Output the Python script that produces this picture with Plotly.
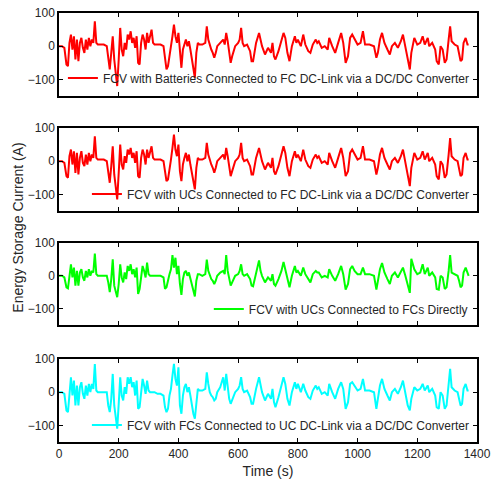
import plotly.graph_objects as go

# Time samples (s)
time_s = [
    0, 10, 18, 25, 30, 35, 40, 45, 50, 55,
    60, 65, 70, 75, 80, 85, 90, 95, 100, 105,
    110, 115, 120, 125, 130, 140, 150, 160, 165, 170,
    175, 180, 185, 190, 195, 200, 205, 210, 215, 220,
    225, 230, 235, 240, 245, 250, 255, 260, 265, 270,
    275, 280, 285, 290, 295, 300, 305, 310, 315, 320,
    330, 340, 350, 355, 360, 365, 370, 375, 380, 385,
    390, 395, 400, 405, 410, 415, 420, 425, 430, 435,
    440, 445, 450, 455, 460, 465, 470, 480, 490, 495,
    500, 505, 510, 515, 520, 525, 530, 540, 550, 555,
    560, 565, 570, 575, 580, 590, 600, 605, 610, 615,
    620, 630, 640, 645, 650, 655, 660, 670, 675, 680,
    690, 700, 710, 715, 720, 725, 735, 745, 752, 758,
    765, 772, 780, 790, 795, 800, 810, 818, 825, 835,
    842, 850, 860, 865, 870, 880, 890, 900, 905, 915,
    925, 935, 945, 952, 960, 968, 975, 982, 990, 1000,
    1010, 1018, 1025, 1040, 1055, 1063, 1068, 1075, 1082, 1090,
    1100, 1108, 1115, 1125, 1135, 1145, 1152, 1160, 1168, 1175,
    1180, 1190, 1200, 1210, 1218, 1225, 1235, 1240, 1250, 1260,
    1265, 1272, 1278, 1285, 1292, 1298, 1305, 1310, 1315, 1325,
    1335, 1340, 1345, 1350, 1355, 1362, 1368, 1372,
]

# Panel 1: batteries connected to FC DC-link via DC/DC converter (A)
batt_current = [
    0, 0, -5, -55, -60, 10, 35, -10, 30, -40,
    20, -45, 10, 25, -5, -20, 20, -10, 25, 0,
    20, 10, 75, 10, 5, 5, 5, 0, -30, -70,
    -20, 30, -40, -75, -120, -40, 55, -10, -30, 10,
    -10, 35, 20, 45, 10, 25, -5, 30, -50, -55,
    10, 35, 20, -10, 40, 10, 30, 50, 10, 5,
    5, 5, 0, -40, -70, -60, -20, 0, 30, 65,
    30, 10, 40, -30, -65, -10, 10, 20, 0, 15,
    -10, -40, -60, -95, -20, 10, 5, 5, 10, 60,
    20, 0, -10, -20, -35, -20, 0, 10, 20, 5,
    40, 15, -20, -50, -30, 0, 10, 20, 55, 10,
    0, 5, -15, -45, -45, -10, 10, 40, 20, 0,
    -25, -5, -20, 10, -30, -40, -15, 20, 40, 25,
    -20, -45, 0, 30, 10, 20, 0, 35, 5, -15,
    -20, 5, 20, 10, 15, -5, 0, -10, 25, 0,
    -20, 10, 40, 10, -50, -30, 25, 35, 20, 5,
    10, 45, 5, 5, 0, -35, -20, 20, 40, 10,
    -10, -25, 0, 10, -5, 15, 35, 0, -40, -70,
    -20, 25, 5, 10, 30, 5, 25, 0, 10, -10,
    -45, -55, 0, -10, -50, -40, 20, 60, 15, 5,
    0, -20, -45, -40, 10, 25, 5, 5,
]

# Panel 2: UCs connected to FC DC-link via DC/DC converter (A)
uc_dcdc_current = [
    0, 0, -5, -45, -50, 15, 35, -10, 30, -35,
    25, -40, 10, 30, -5, -15, 20, -10, 25, 0,
    20, 10, 75, 10, 5, 5, 5, 0, -30, -65,
    -15, 45, -40, -70, -115, -35, 50, -10, -25, 15,
    -5, 35, 20, 40, 10, 25, -5, 30, -45, -50,
    10, 35, 20, -10, 35, 10, 30, 45, 10, 5,
    5, 5, 0, -35, -60, -55, -15, 5, 40, 80,
    35, 15, 50, -30, -60, -10, 10, 25, 0, 20,
    -10, -35, -55, -85, -20, 10, 5, 5, 10, 55,
    20, 0, -10, -20, -35, -20, 0, 10, 20, 5,
    40, 15, -20, -45, -30, 0, 10, 20, 55, 10,
    0, 5, -15, -40, -40, -10, 10, 40, 20, 0,
    -25, -5, -20, 10, -30, -40, -15, 20, 45, 25,
    -20, -45, 0, 30, 10, 20, 0, 35, 5, -15,
    -20, 5, 20, 10, 15, -5, 0, -10, 25, 0,
    -20, 10, 40, 10, -45, -30, 25, 35, 20, 5,
    10, 45, 5, 5, 0, -40, -20, 20, 40, 10,
    -10, -25, 0, 10, -5, 15, 35, 0, -40, -75,
    -20, 25, 5, 10, 30, 5, 25, 0, 10, -10,
    -45, -55, 0, -10, -50, -40, 20, 70, 15, 5,
    0, -20, -45, -40, 10, 25, 5, 5,
]

# Panel 3: UCs connected to FCs directly (A)
uc_direct_current = [
    0, 0, -5, -35, -38, 10, 35, -5, 25, -30,
    15, -30, 10, 20, -5, -15, 15, -5, 20, 0,
    15, 10, 68, 5, 0, 0, 0, 0, -20, -50,
    -10, 50, -30, -50, -65, -25, 35, -5, -20, 10,
    -10, 30, 15, 35, 5, 20, -5, 25, -55, -40,
    5, 30, 15, -5, 40, 5, 0, 0, 0, 0,
    0, 0, -5, -40, -35, -10, 5, 20, 63, 25,
    55, 5, 30, -25, -58, -10, 10, 15, 0, 10,
    -10, -30, -45, -63, -15, 5, 5, 0, 5, 49,
    15, 0, -10, -15, -25, -15, 0, 10, 15, 5,
    63, 15, -15, -30, -20, 0, 5, 15, 35, 5,
    0, 5, -10, -30, -32, -10, 5, 47, 15, 0,
    -20, -5, -15, 5, -25, -30, -10, 15, 42, 20,
    -15, -35, 0, 30, 10, 15, 0, 25, 5, -10,
    -20, 5, 15, 10, 10, -5, 0, -5, 20, 0,
    -15, 5, 30, 5, -42, -25, 20, 30, 15, 5,
    5, 25, 5, 5, 0, -42, -15, 20, 39, 10,
    -10, -25, 0, 10, -5, 15, 25, 0, -30, -52,
    52, 20, 5, 10, 35, 5, 25, 0, 10, -5,
    -40, -42, 0, -5, -40, -35, 15, 63, 10, 5,
    0, -15, -35, -30, 10, 25, 5, 0,
]

# Panel 4: FCs connected to UC DC-link via DC/DC converter (A)
fc_dcdc_current = [
    0, 0, -5, -55, -60, 10, 45, -10, 35, -40,
    20, -40, 15, 30, -5, -20, 20, -10, 25, 0,
    25, 10, 85, 5, 0, 0, 0, 0, -40, -60,
    -20, 55, -40, -70, -110, -35, 45, -10, -25, 15,
    -5, 45, 25, 45, 15, 30, -10, 35, -50, -45,
    10, 40, 20, -5, 35, 5, 0, 0, 0, 0,
    -5, -5, -10, -45, -60, -50, -10, 10, 50, 85,
    40, 20, 75, -40, -65, -10, 15, 25, 0, 15,
    -10, -45, -65, -80, -25, 10, 5, 5, 10, 60,
    25, 0, -10, -15, -25, -20, 0, 15, 45, 5,
    55, 15, -20, -35, -25, 0, 10, 20, 45, 10,
    0, 5, -15, -35, -35, -10, 10, 45, 20, 0,
    -25, -5, -20, 10, -30, -45, -15, 20, 45, 25,
    -20, -40, 0, 30, 10, 25, 0, 25, 5, -15,
    -20, 5, 20, 10, 15, -5, 0, -10, 25, 0,
    -20, 10, 30, 10, -50, -30, 25, 30, 20, 5,
    10, 40, 5, 5, 0, -50, -20, 20, 40, 10,
    -10, -25, 0, 10, -5, 15, 35, 0, -40, -55,
    -20, 15, 5, 10, 25, 5, 20, 0, 10, -10,
    -45, -50, 0, -10, -50, -40, 20, 70, 15, 5,
    0, -20, -40, -35, 10, 25, 5, 5,
]

series_names = [
    "FCV with Batteries Connected to FC DC-Link via a DC/DC Converter",
    "FCV with UCs Connected to FC DC-Link via a DC/DC Converter",
    "FCV with UCs Connected to FCs Directly",
    "FCV with FCs Connected to UC DC-Link via a DC/DC Converter",
]
series_values = [batt_current, uc_dcdc_current, uc_direct_current, fc_dcdc_current]
series_colors = ["#FF0000", "#FF0000", "#00FF00", "#00FFFF"]

x_ticks = [0, 200, 400, 600, 800, 1000, 1200, 1400]
y_ticks = [-100, 0, 100]

FONT = "Liberation Sans, Arial, sans-serif"
TXT = "#262626"

fig = go.Figure()

domains = [[0.8065, 1.0], [0.5385, 0.7319], [0.2727, 0.4639], [0.0, 0.1935]]
legend_y = [0.8485, 0.578, 0.310, 0.0396]
legend_x = [0.995, 0.995, 0.99, 0.995]

layout = dict(
    width=492, height=481,
    margin=dict(l=59, r=15, t=13, b=39, autoexpand=False),
    paper_bgcolor="white", plot_bgcolor="white",
    font=dict(family=FONT, size=12, color=TXT),
    showlegend=True,
)

for i, (name, vals, col) in enumerate(zip(series_names, series_values, series_colors)):
    k = "" if i == 0 else str(i + 1)
    leg = "legend" if i == 0 else f"legend{i + 1}"
    fig.add_trace(go.Scatter(
        x=time_s, y=vals, mode="lines", name=name,
        line=dict(color=col, width=2),
        xaxis=f"x{k}", yaxis=f"y{k}", legend=leg,
    ))
    layout[f"xaxis{k}"] = dict(
        domain=[0, 1], anchor=f"y{k}", range=[0, 1400],
        tickvals=x_ticks, showticklabels=(i == 3),
        ticks="inside", ticklen=4, tickwidth=1, tickcolor="black",
        showline=True, linecolor="black", linewidth=1.5, mirror="ticks",
        showgrid=False, zeroline=False,
        tickfont=dict(family=FONT, size=12, color=TXT),
        **({"matches": "x"} if i > 0 else {}),
    )
    layout[f"yaxis{k}"] = dict(
        domain=domains[i], anchor=f"x{k}", range=[-150, 100],
        tickvals=y_ticks, ticks="inside", ticklen=4, tickwidth=1, tickcolor="black",
        showline=True, linecolor="black", linewidth=1.5, mirror="ticks",
        showgrid=False, zeroline=False,
        tickfont=dict(family=FONT, size=12, color=TXT),
    )
    layout[leg] = dict(
        x=legend_x[i], y=legend_y[i], xanchor="right", yanchor="middle",
        xref="paper", yref="paper",
        bgcolor="rgba(0,0,0,0)", borderwidth=0,
        font=dict(family=FONT, size=12, color=TXT),
        itemwidth=30,
    )

layout["xaxis4"]["title"] = dict(text="Time (s)", font=dict(family=FONT, size=14, color=TXT), standoff=6)

fig.update_layout(**layout)

fig.add_annotation(
    text="Energy Storage Current (A)", textangle=-90,
    x=-0.10, y=0.5, xref="paper", yref="paper",
    xanchor="center", yanchor="middle", showarrow=False,
    font=dict(family=FONT, size=14, color=TXT),
)

fig.write_html(
    "out.html",
    config={"displayModeBar": False},
    post_script="document.body.style.margin='0';document.body.style.overflow='hidden';",
)
